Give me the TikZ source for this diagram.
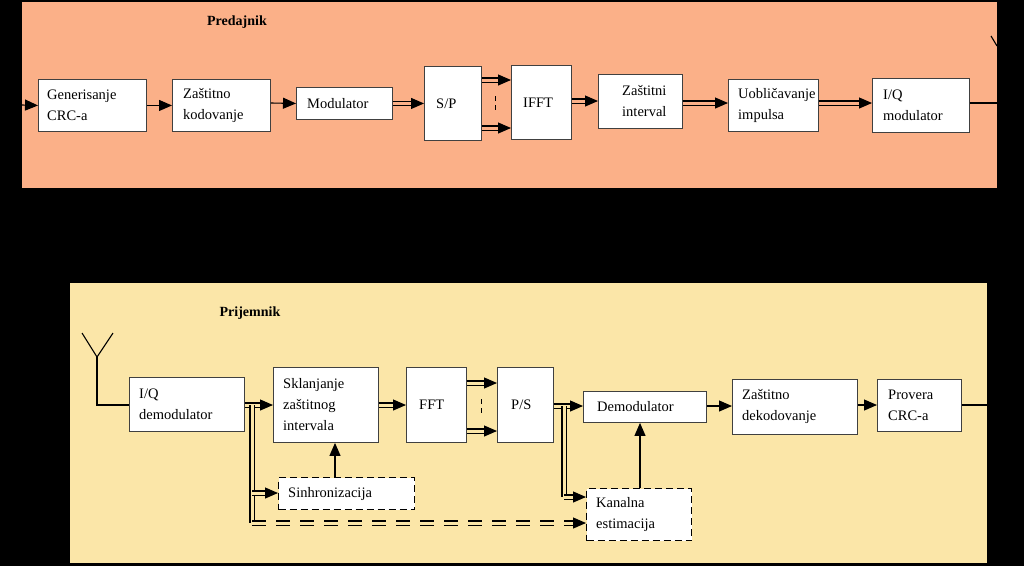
\documentclass[tikz,border=0pt]{standalone}
\usepackage{fontspec}
\setmainfont{Liberation Serif}
\usetikzlibrary{arrows.meta,calc}
\definecolor{peach}{HTML}{FBB088}
\definecolor{cream}{HTML}{FBE6A8}
\tikzset{
  blk/.style={draw=black!75, fill=white, line width=0.9pt, inner sep=0pt},
  dbox/.style={blk, draw=black, dash pattern=on 7pt off 4pt, line width=1.4pt},
  dline/.style={double=peach, double distance=3pt, line width=1.2pt, draw=black},
  sline/.style={line width=1.1pt},
  atip/.style={line width=1.1pt, -{Triangle[length=13pt,width=11pt]}},
  ttl/.style={font=\fontsize{14}{16}\selectfont\bfseries},
  lbl/.style={font=\fontsize{14.5}{21}\selectfont, align=left, anchor=west, inner sep=0pt}
}
\newcommand\darr[2]{\draw[dline] (#1) -- ($(#2)!11pt!(#1)$); \draw[atip] ($(#2)!12pt!(#1)$) -- (#2);}
\newcommand\mkbox[6]{\node[#6, minimum width=#3pt-#1pt, minimum height=#4pt-#2pt, anchor=north west] (#5) at (#1,#2) {};}
\begin{document}
\begin{tikzpicture}[x=1pt,y=-1pt]
\fill[black] (0,0) rectangle (1024,566);
\useasboundingbox (0,0) rectangle (1024,566);
\fill[peach] (22,2) rectangle (997,188);
\fill[cream] (70,283) rectangle (987,563);
\node[ttl] (t1) at (237,22) {Predajnik};
\node[ttl] (t2) at (250,313) {Prijemnik};
% top boxes
\mkbox{38}{79}{146}{131}{gen}{blk}
\mkbox{172}{79}{270}{131}{zk}{blk}
\mkbox{296}{87}{392}{119}{mod}{blk}
\mkbox{424}{66}{481}{140}{sp}{blk}
\mkbox{511}{65}{571}{139}{ifft}{blk}
\mkbox{598}{74}{682}{128}{zi}{blk}
\mkbox{728}{79}{818}{131}{uob}{blk}
\mkbox{872}{78}{969}{132}{iqm}{blk}
\node[lbl] at ($(gen.west)+(9,0)$) {Generisanje\\CRC-a};
\node[lbl] at ($(zk.west)+(11,0)$) {Zaštitno\\kodovanje};
\node[lbl] at ($(mod.west)+(11,0)$) {Modulator};
\node[lbl] at ($(sp.west)+(12,0)$) {S/P};
\node[lbl] at ($(ifft.west)+(12,0)$) {IFFT};
\node[lbl] at ($(zi.west)+(24,0)$) {Zaštitni\\interval};
\node[lbl] at ($(uob.west)+(10,0)$) {Uobličavanje\\impulsa};
\node[lbl] at ($(iqm.west)+(11,0)$) {I/Q\\modulator};
\coordinate (tin) at (22,105);
\coordinate (tout) at (997,103);
\draw[atip] (tin) -- (gen.west);
\draw[atip] (gen.east) -- (zk.west);
\draw[atip] (zk.east |- 0,103) -- (mod.west);
\darr{mod.east}{sp.west}
\darr{sp.east |- 0,80}{ifft.west |- 0,80}
\darr{sp.east |- 0,128}{ifft.west |- 0,128}
\draw[line width=1pt, dash pattern=on 5pt off 4pt] (495,96) -- (495,112);
\darr{ifft.east |- 0,101}{zi.west |- 0,101}
\darr{zi.east |- 0,103}{uob.west |- 0,103}
\darr{uob.east |- 0,103}{iqm.west |- 0,103}
\draw[sline] (iqm.east |- tout) -- (tout);
\draw[sline] (991,36) -- (997,46);
% bottom boxes
\tikzset{dline/.append style={double=cream}}
\mkbox{129}{377}{244}{431}{iqd}{blk}
\mkbox{273}{367}{378}{442}{skl}{blk}
\mkbox{406}{367}{466}{442}{fft}{blk}
\mkbox{497}{367}{553}{442}{ps}{blk}
\mkbox{583}{391}{706}{422}{dem}{blk}
\mkbox{732}{379}{857}{434}{zd}{blk}
\mkbox{877}{379}{961}{431}{crc}{blk}
\mkbox{278}{477}{414}{509}{sin}{dbox}
\mkbox{586}{488}{691}{540}{kan}{dbox}
\node[lbl] at ($(iqd.west)+(10,0)$) {I/Q\\demodulator};
\node[lbl] at ($(skl.west)+(10,0)$) {Sklanjanje\\zaštitnog\\intervala};
\node[lbl] at ($(fft.west)+(13,0)$) {FFT};
\node[lbl] at ($(ps.west)+(14,0)$) {P/S};
\node[lbl] at ($(dem.west)+(14,0)$) {Demodulator};
\node[lbl] at ($(zd.west)+(10,0)$) {Zaštitno\\dekodovanje};
\node[lbl] at ($(crc.west)+(11,0)$) {Provera\\CRC-a};
\node[lbl] at ($(sin.west)+(10,0)$) {Sinhronizacija};
\node[lbl] at ($(kan.west)+(10,0)$) {Kanalna\\estimacija};
% antenna
\coordinate (ant) at (97,357);
\draw[sline] (82,333) -- (ant) -- (113,333);
\draw[sline] (ant) -- (97,405) -- (iqd.west |- 0,405);
\coordinate (bout) at (987,405);
\draw[sline] (crc.east |- bout) -- (bout);
\darr{iqd.east |- 0,405}{skl.west |- 0,405}
\draw[dline] (252,405) -- (252,523);
\draw[dline, dash pattern=on 14pt off 10pt] (252,523) -- ($(kan.west |- 0,523)+(-12,0)$);
\draw[atip] ($(kan.west |- 0,523)+(-13,0)$) -- (kan.west |- 0,523);
\darr{252,493}{sin.west |- 0,493}
\draw[atip] (sin.north -| 335,0) -- (skl.south -| 335,0);
\darr{skl.east |- 0,405}{fft.west |- 0,405}
\darr{fft.east |- 0,383}{ps.west |- 0,383}
\darr{fft.east |- 0,431}{ps.west |- 0,431}
\draw[line width=1pt, dash pattern=on 5pt off 4pt] (481,399) -- (481,415);
\darr{ps.east |- 0,406}{dem.west |- 0,406}
\draw[dline] (564,406) -- (564,497);
\darr{564,497}{kan.west |- 0,497}
\draw[atip] (kan.north -| 640,0) -- (dem.south -| 640,0);
\draw[atip] (dem.east |- 0,406) -- (zd.west |- 0,406);
\draw[atip] (zd.east |- 0,405) -- (crc.west |- 0,405);
\end{tikzpicture}
\end{document}
